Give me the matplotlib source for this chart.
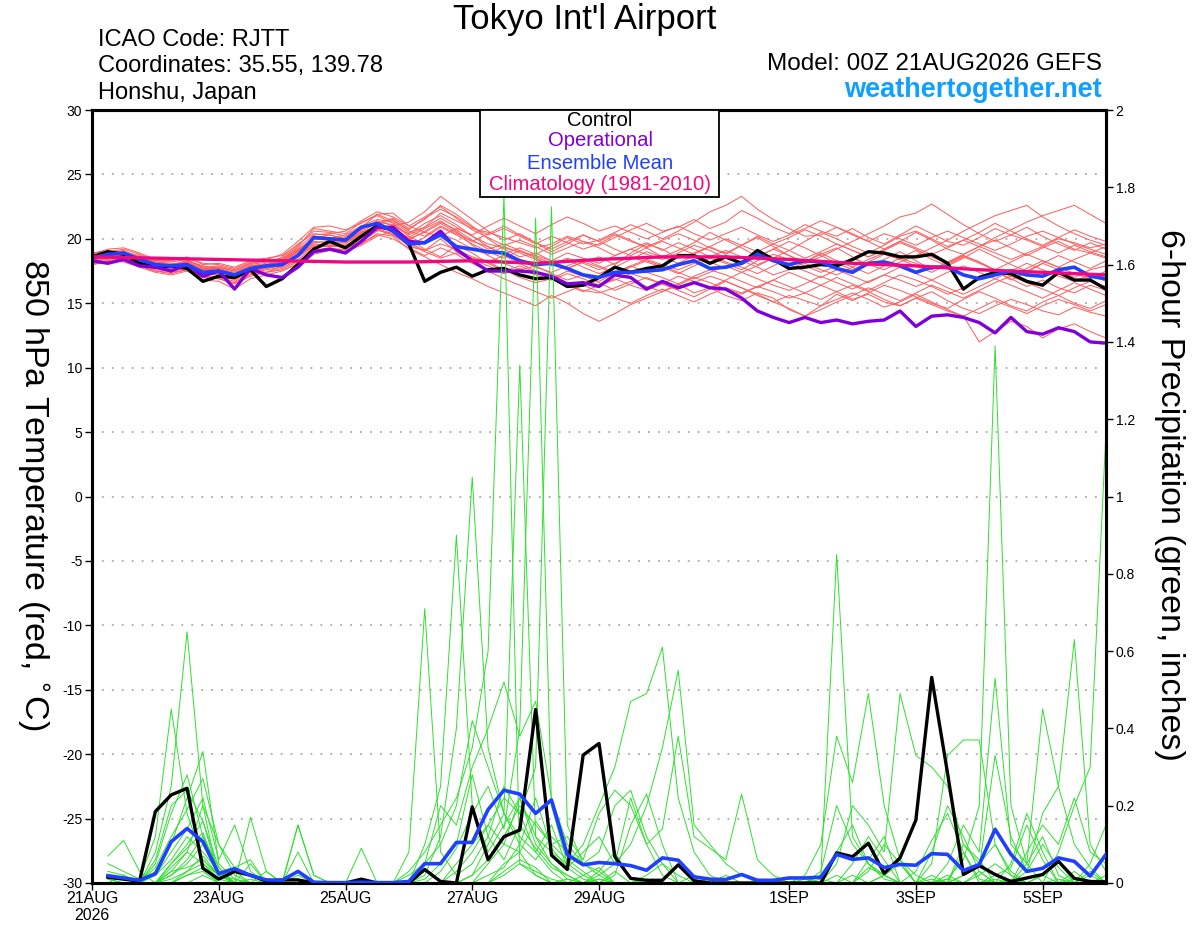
import numpy as np
import pandas as pd
import matplotlib
matplotlib.use('Agg')
import matplotlib.pyplot as plt
from matplotlib.patches import Rectangle

plt.rcParams['font.family'] = ['Liberation Sans', 'DejaVu Sans']

# ---------------- data ----------------
run_start = '2026-08-21 00:00'
n_temp = 65
tick_dates = ['2026-08-21', '2026-08-23', '2026-08-25', '2026-08-27', '2026-08-29',
              '2026-09-01', '2026-09-03', '2026-09-05']
tick_labels = ['21AUG\n2026', '23AUG', '25AUG', '27AUG', '29AUG', '1SEP', '3SEP', '5SEP']
temp_ticks = [-30, -25, -20, -15, -10, -5, 0, 5, 10, 15, 20, 25, 30]
precip_ticks = [0, 0.2, 0.4, 0.6, 0.8, 1.0, 1.2, 1.4, 1.6, 1.8, 2.0]
precip_tick_labels = ['0', '0.2', '0.4', '0.6', '0.8', '1', '1.2', '1.4', '1.6', '1.8', '2']

control_t = [18.6, 19.0, 18.8, 18.1, 17.8, 17.9, 17.7, 16.7, 17.1, 17.0, 17.6, 16.3, 16.9,
             18.0, 19.2, 19.8, 19.3, 20.2, 21.0, 20.7, 19.6, 16.7, 17.4, 17.8, 17.1, 17.6,
             17.7, 17.2, 16.9, 17.0, 16.3, 16.4, 17.0, 17.8, 17.4, 17.7, 17.9, 18.7, 18.7,
             18.1, 18.6, 18.1, 19.1, 18.4, 17.7, 17.8, 18.0, 17.9, 18.4, 19.0, 18.9, 18.6,
             18.6, 18.8, 18.1, 16.1, 17.0, 17.4, 17.3, 16.7, 16.4, 17.4, 16.8, 16.8, 16.1]
operational_t = [18.3, 18.1, 18.4, 17.9, 17.8, 17.5, 18.0, 17.1, 17.5, 16.1, 17.7, 17.2, 17.0,
                 17.8, 19.0, 19.2, 18.9, 19.8, 20.9, 20.9, 19.8, 19.7, 20.6, 19.2, 18.3, 17.5,
                 17.5, 17.5, 17.4, 17.1, 16.5, 16.6, 16.3, 17.2, 17.0, 16.1, 16.7, 16.2, 16.6,
                 16.2, 16.1, 15.4, 14.4, 13.9, 13.5, 13.9, 13.5, 13.7, 13.4, 13.6, 13.7, 14.4,
                 13.2, 14.0, 14.1, 13.9, 13.5, 12.7, 13.9, 12.8, 12.6, 13.1, 12.8, 12.0, 11.9]
ens_mean_t = [18.5, 18.8, 18.9, 18.4, 18.0, 17.9, 18.0, 17.4, 17.5, 17.2, 17.7, 17.9, 18.0,
              18.7, 20.1, 20.0, 19.9, 20.9, 21.2, 20.6, 19.6, 19.7, 20.3, 19.4, 19.2, 19.0,
              18.9, 18.3, 18.0, 18.1, 17.7, 17.2, 17.0, 17.4, 17.4, 17.5, 17.6, 18.0, 18.3,
              17.7, 17.8, 18.1, 18.8, 18.3, 18.0, 18.3, 18.2, 17.7, 17.4, 18.1, 18.2, 17.9,
              17.4, 17.8, 17.8, 17.2, 16.9, 17.2, 17.5, 17.2, 17.1, 17.6, 17.8, 17.1, 16.9]
climo_days = ['2026-08-21', '2026-08-22', '2026-08-23', '2026-08-24', '2026-08-25', '2026-08-26',
              '2026-08-27', '2026-08-28', '2026-08-29', '2026-08-30', '2026-08-31', '2026-09-01',
              '2026-09-02', '2026-09-03', '2026-09-04', '2026-09-05', '2026-09-06']
climo_t = [18.6, 18.5, 18.4, 18.3, 18.2, 18.2, 18.3, 18.1, 18.4, 18.6, 18.6, 18.4, 18.1,
           17.9, 17.6, 17.4, 17.2]

member_t = [
    [18.7,19.0,19.2,18.8, 18.3,18.2,18.4,17.8, 17.9,17.6,18.1,18.3, 18.5,19.4,20.8,20.6,
     20.4,21.3,21.8,21.2, 20.3,20.9,22.0,21.4, 20.8,20.5,20.1,19.7, 19.3,19.6,20.2,19.8,
     19.5,20.1,20.7,21.2, 20.6,20.9,21.5,20.8, 21.3,22.2,21.6,20.9, 20.4,21.1,20.6,20.2,
     20.8,20.1,19.6,20.3, 21.0,20.4,19.8,19.5, 20.1,20.8,20.3,19.9, 19.4,20.0,19.7,19.3, 19.6],
    [18.4,18.6,18.7,18.1, 17.8,17.7,17.9,17.2, 17.3,16.9,17.5,17.7, 17.9,18.6,19.5,19.6,
     19.6,20.5,21.0,20.5, 19.4,19.1,20.0,19.0, 18.5,18.2,17.6,17.0, 16.6,16.9,16.4,16.0,
     15.8,16.2,16.7,16.3, 15.9,16.4,17.0,16.6, 16.1,15.7,16.3,15.9, 15.4,15.8,16.4,15.9,
     15.3,15.7,15.1,14.8, 15.4,15.9,15.2,14.6, 14.2,14.8,15.3,14.9, 14.4,14.1,14.7,14.3, 14.0],
    [18.2,18.5,18.9,18.6, 18.1,17.9,18.2,17.5, 17.6,17.2,17.8,18.0, 18.2,19.0,20.2,20.1,
     19.9,20.6,21.2,21.6, 20.8,21.5,22.6,21.9, 21.0,20.0,19.2,18.6, 18.9,18.3,17.7,18.2,
     18.6,18.0,18.9,19.6, 19.2,18.5,18.9,19.4, 18.8,19.5,20.1,19.4, 18.7,18.2,18.8,19.3,
     18.6,17.9,18.4,19.0, 18.3,17.6,18.1,18.7, 18.2,17.5,16.8,17.4, 18.1,17.6,17.0,17.6, 17.9],
    [18.9,19.1,18.8,18.4, 18.0,17.8,18.3,17.9, 17.7,17.4,17.9,18.1, 18.4,19.2,20.0,19.9,
     20.1,20.7,21.4,21.0, 21.3,22.1,23.3,22.4, 21.5,20.6,19.9,20.4, 19.7,19.0,19.6,20.3,
     19.8,19.2,18.7,19.3, 18.6,18.1,18.7,18.2, 17.7,18.3,17.8,17.2, 17.6,18.2,18.9,18.3,
     17.8,17.3,17.9,18.5, 19.1,18.4,17.9,18.5, 19.2,18.6,18.0,17.5, 18.1,18.7,18.2,17.7, 18.3],
    [18.3,18.4,18.6,18.2, 17.7,17.9,18.1,17.4, 17.4,17.0,17.6,17.4, 17.9,18.4,19.3,19.5,
     19.3,19.8,20.6,20.9, 20.0,19.2,18.6,19.5, 18.9,18.1,17.5,17.9, 17.4,16.9,17.5,17.1,
     16.7,17.3,17.9,17.4, 17.0,16.5,17.1,17.6, 17.2,16.7,16.2,16.8, 17.4,16.9,16.4,17.0,
     16.5,16.0,16.6,17.2, 16.8,16.3,15.7,16.2, 16.9,17.5,16.9,16.3, 16.8,16.2,15.8,16.4, 16.0],
    [18.6,18.9,19.1,18.5, 18.1,18.0,18.2,17.7, 17.5,17.1,17.7,17.9, 18.6,19.6,20.4,20.3,
     20.0,20.4,21.1,21.5, 20.6,20.2,21.0,20.4, 19.8,19.4,18.8,19.3, 18.8,19.4,20.1,19.6,
     19.9,20.5,21.1,20.6, 20.0,20.6,21.3,22.1, 22.6,23.3,22.3,21.5, 20.8,20.2,20.3,20.9,
     20.4,19.8,19.2,19.8, 20.5,19.9,19.2,18.8, 19.4,19.9,19.3,18.7, 19.3,19.8,19.2,18.9, 19.4],
    [18.0,18.3,18.5,18.0, 17.6,17.5,17.7,17.1, 17.0,16.7,17.3,17.6, 17.8,18.3,19.1,19.3,
     19.1,19.6,20.4,20.2, 19.2,18.6,18.0,17.4, 16.9,16.3,15.8,15.3, 14.8,15.6,15.0,14.2,
     13.6,14.2,14.9,15.4, 15.9,16.5,15.8,16.2, 15.6,15.2,15.8,15.4, 14.5,14.0,14.8,15.7,
     15.2,15.8,16.4,16.0, 15.5,15.0,14.6,15.3, 15.9,15.4,14.8,14.4, 15.1,15.6,15.0,14.6, 15.2],
    [18.5,18.8,19.0,18.7, 18.2,18.1,18.0,17.6, 17.8,17.5,18.0,18.2, 18.3,19.1,20.0,20.0,
     20.3,21.0,21.5,21.3, 20.5,20.9,21.6,20.9, 20.2,19.6,19.3,19.0, 18.7,18.3,18.9,18.5,
     18.1,18.7,19.2,18.8, 18.4,18.9,19.5,19.1, 18.5,18.0,18.6,19.2, 19.8,19.3,18.7,18.1,
     17.6,18.2,18.8,18.4, 17.9,17.4,18.0,18.6, 18.1,17.6,17.1,17.7, 18.3,17.8,17.3,16.9, 17.5],
    [18.4,18.7,18.6,18.3, 17.9,17.6,17.8,17.3, 17.2,16.8,17.4,17.7, 18.0,18.9,19.8,19.7,
     19.8,20.3,21.0,20.7, 20.1,20.8,21.4,20.6, 19.5,18.7,18.1,17.6, 17.9,17.3,16.8,17.2,
     16.6,16.0,16.5,17.0, 16.5,16.0,15.5,16.1, 16.7,16.2,15.6,15.1, 15.6,15.2,14.8,15.3,
     15.8,15.3,14.7,15.1, 15.7,15.1,14.5,14.0, 12.0,12.8,13.6,13.2, 12.3,13.0,13.4,12.8, 12.3],
    [18.8,19.2,19.3,18.9, 18.4,18.3,18.6,18.0, 18.1,17.8,18.3,18.5, 18.7,19.5,20.6,20.5,
     20.2,20.9,21.9,21.4, 20.7,21.6,22.3,21.7, 20.9,20.3,20.8,20.2, 19.6,20.2,19.7,19.2,
     19.6,20.3,19.8,19.4, 19.9,20.4,19.9,19.3, 18.9,19.5,20.2,19.6, 19.1,19.8,20.5,20.0,
     19.4,18.9,19.5,20.2, 20.6,20.0,19.4,19.9, 20.5,21.2,20.6,20.0, 19.5,20.1,20.7,20.2, 19.8],
    [18.1,18.2,18.4,17.9, 17.5,17.3,17.6,17.0, 16.9,16.6,17.2,17.4, 17.6,18.0,18.8,19.1,
     19.0,19.5,20.2,20.6, 19.9,20.6,21.3,20.7, 19.9,19.2,19.6,19.1, 18.5,17.9,18.4,17.8,
     17.3,17.8,18.4,19.0, 18.6,19.1,19.7,20.5, 19.9,19.3,18.6,19.2, 18.7,18.1,18.6,19.2,
     19.8,20.4,21.0,21.7, 22.0,22.7,21.9,21.1, 20.4,19.8,20.3,20.9, 20.2,19.6,19.1,19.7, 19.2],
    [18.7,18.9,18.9,18.5, 18.0,17.8,18.0,17.5, 17.5,17.2,17.7,17.9, 18.2,19.0,20.1,20.3,
     20.0,20.8,21.3,21.1, 20.2,19.6,20.4,19.9, 19.2,18.8,19.4,18.9, 18.4,18.0,18.5,18.1,
     17.6,18.1,18.6,18.2, 17.8,17.3,17.9,18.5, 18.1,17.6,18.3,18.8, 18.4,17.9,17.4,17.9,
     18.5,18.0,17.6,18.2, 18.7,19.3,19.9,20.6, 21.2,21.8,22.2,22.6, 21.7,21.0,20.4,19.9, 19.5],
    [18.3,18.6,18.8,18.4, 17.9,17.8,18.1,17.6, 17.6,17.1,17.6,17.9, 18.1,18.8,19.7,19.8,
     19.7,20.2,20.8,20.4, 19.7,19.1,19.6,19.2, 18.6,18.2,18.7,18.3, 17.8,17.4,17.9,18.4,
     17.9,17.4,17.9,18.4, 18.0,17.6,18.1,18.7, 18.2,17.8,17.3,17.9, 18.5,18.1,17.6,17.2,
     17.8,18.4,18.9,18.5, 18.1,17.6,18.2,18.8, 19.4,20.1,20.7,21.3, 21.8,22.2,22.6,21.9, 21.2],
    [18.6,18.7,18.5,18.1, 17.7,17.6,17.9,17.3, 17.3,16.9,17.5,17.8, 17.9,18.7,19.6,19.5,
     19.5,20.1,20.7,20.3, 19.6,19.0,18.5,18.9, 18.4,17.9,17.3,17.7, 17.2,16.8,17.3,16.9,
     16.4,16.8,17.3,16.9, 16.5,16.1,16.6,17.1, 16.7,16.2,15.7,15.1, 14.6,14.0,14.5,15.1,
     15.6,16.2,15.7,15.2, 15.8,16.4,15.9,15.4, 16.0,16.6,17.1,16.6, 16.1,15.6,16.2,16.7, 16.3],
    [18.9,19.0,19.0,18.6, 18.3,18.4,18.5,18.1, 18.0,17.7,18.2,18.4, 18.8,19.8,20.9,21.0,
     20.7,21.2,21.9,22.0, 21.0,20.5,20.2,20.8, 20.3,21.0,21.6,21.0, 20.4,21.1,21.7,21.2,
     20.6,21.0,20.5,20.0, 20.5,21.0,20.4,19.9, 20.4,20.9,20.3,19.8, 20.3,20.8,21.4,20.9,
     20.3,19.8,20.4,20.0, 19.5,20.1,20.6,20.1, 19.6,19.1,19.6,20.2, 20.6,20.1,19.6,19.2, 18.8],
    [18.2,18.3,18.2,17.8, 17.4,17.2,17.5,16.8, 16.7,16.1,16.9,17.2, 17.5,18.1,19.0,19.2,
     19.2,19.9,20.7,21.0, 20.4,21.2,21.8,21.1, 20.2,19.4,18.7,18.1, 17.5,17.0,16.4,15.9,
     16.4,16.9,16.4,16.0, 16.5,17.1,16.7,16.2, 16.8,17.4,16.9,16.4, 16.0,16.5,17.1,16.6,
     16.1,16.7,17.2,16.8, 16.3,16.8,16.2,15.7, 16.3,16.9,16.4,15.9, 15.4,16.0,16.6,16.1, 15.6],
    [18.5,18.6,18.4,18.0, 17.8,17.7,17.9,17.4, 17.4,17.0,17.5,17.8, 18.0,18.6,19.4,19.4,
     19.4,20.0,20.7,20.3, 19.5,20.1,20.9,20.3, 19.6,19.0,18.5,19.1, 18.6,18.1,17.7,18.2,
     17.8,17.3,17.8,18.3, 17.9,17.4,16.9,17.4, 17.9,17.4,17.9,18.5, 18.0,17.5,17.0,17.6,
     17.1,16.6,17.2,17.8, 17.3,16.8,17.4,17.9, 17.4,16.9,17.5,18.1, 17.6,17.1,16.7,17.2, 16.7],
    [18.4,18.8,18.9,18.6, 18.2,18.0,18.3,17.8, 17.8,17.5,18.1,18.3, 18.4,19.3,20.3,20.4,
     20.6,21.4,22.1,21.7, 21.0,21.7,22.5,21.6, 20.7,20.1,19.5,19.9, 19.4,18.8,19.3,19.8,
     19.3,18.7,19.2,19.7, 19.1,19.7,19.2,18.6, 19.1,18.6,18.0,18.5, 19.1,18.5,19.0,19.6,
     19.1,18.6,19.1,19.7, 19.2,18.6,18.1,18.7, 18.2,17.6,18.2,18.8, 18.3,17.8,18.4,18.9, 18.5],
    [18.0,18.2,18.3,17.9, 17.5,17.4,17.6,17.0, 16.9,16.5,17.1,17.4, 17.7,18.2,19.0,19.1,
     19.0,19.7,20.3,20.0, 19.3,18.7,19.3,18.8, 18.1,17.5,16.9,16.4, 15.9,15.4,15.9,16.4,
     15.9,15.4,15.0,15.6, 16.1,15.6,15.1,15.7, 16.2,15.8,16.3,16.8, 16.3,15.8,15.3,15.9,
     16.4,15.9,15.3,14.8, 15.4,14.9,14.4,14.0, 14.6,15.2,14.7,14.2, 14.8,15.3,14.9,14.4, 14.9],
    [18.7,18.8,18.6,18.2, 17.9,17.9,18.2,17.7, 17.7,17.3,17.9,18.0, 18.3,19.1,20.0,20.0,
     19.8,20.5,21.0,20.8, 20.0,20.5,21.2,20.5, 19.8,20.4,21.0,20.3, 19.7,19.2,19.8,20.3,
     19.8,20.4,19.9,19.3, 19.8,19.3,18.8,19.4, 20.0,19.5,19.0,19.6, 20.1,20.7,20.2,19.6,
     19.1,18.6,19.2,19.8, 19.3,18.8,19.3,19.9, 19.4,18.9,18.4,18.9, 19.4,18.9,19.5,19.0, 18.6],
]

control_p = [0.015, 0.01, 0.005, 0.185, 0.228, 0.245, 0.038, 0.01, 0.03, 0.02, 0.005, 0.008,
             0.008, 0.0, 0.0, 0.0, 0.01, 0.0, 0.0, 0.0, 0.035, 0.004, 0.0, 0.197, 0.06, 0.12,
             0.137, 0.449, 0.072, 0.035, 0.331, 0.361, 0.068, 0.012, 0.007, 0.007, 0.047,
             0.006, 0.0, 0.0, 0.0, 0.0, 0.0, 0.0, 0.0, 0.0, 0.078, 0.068, 0.103, 0.025, 0.065,
             0.163, 0.532, 0.284, 0.022, 0.045, 0.022, 0.004, 0.013, 0.022, 0.056, 0.012,
             0.004, 0.003]
ens_mean_p = [0.019, 0.013, 0.007, 0.024, 0.107, 0.141, 0.107, 0.024, 0.037, 0.02, 0.008,
              0.007, 0.03, 0.002, 0.001, 0.001, 0.002, 0.001, 0.001, 0.004, 0.05, 0.05, 0.105,
              0.105, 0.19, 0.24, 0.23, 0.18, 0.215, 0.073, 0.047, 0.053, 0.05, 0.045, 0.033,
              0.065, 0.059, 0.016, 0.01, 0.009, 0.022, 0.007, 0.007, 0.013, 0.013, 0.015, 0.074,
              0.061, 0.065, 0.04, 0.048, 0.046, 0.076, 0.074, 0.032, 0.048, 0.139, 0.074, 0.03,
              0.038, 0.065, 0.056, 0.018, 0.074]

member_p = [
    [0.02,0.01,0.00,0.08,0.25,0.65,0.20,0.01, 0.03,0.00,0.00,0.00,0.00,0.00,0.00,0.00,
     0.00,0.00,0.00,0.00,0.01,0.05,0.10,0.28, 0.12,0.06,0.15,0.09,0.04,0.02,0.00,0.01,
     0.00,0.00,0.02,0.05,0.00,0.00,0.00,0.00, 0.00,0.00,0.00,0.00,0.00,0.01,0.00,0.00,
     0.03,0.10,0.05,0.00,0.08,0.20,0.12,0.03, 0.00,0.01,0.00,0.02,0.06,0.00,0.00,0.00],
    [0.05,0.03,0.01,0.12,0.45,0.18,0.06,0.02, 0.00,0.01,0.00,0.00,0.02,0.00,0.00,0.00,
     0.00,0.00,0.00,0.03,0.08,0.15,0.22,0.35, 0.60,1.78,0.05,0.02,0.00,0.01,0.00,0.03,
     0.08,0.01,0.00,0.00,0.00,0.00,0.00,0.00, 0.00,0.00,0.00,0.00,0.00,0.02,0.08,0.15,
     0.05,0.02,0.00,0.00,0.01,0.00,0.02,0.05, 0.10,0.03,0.00,0.00,0.01,0.00,0.00,0.02],
    [0.00,0.00,0.00,0.03,0.10,0.22,0.34,0.05, 0.01,0.00,0.00,0.00,0.00,0.00,0.00,0.00,
     0.00,0.00,0.00,0.02,0.05,0.10,0.20,0.42, 0.30,0.18,1.34,0.12,0.05,0.01,0.00,0.00,
     0.02,0.15,0.23,0.10,0.00,0.00,0.00,0.00, 0.00,0.00,0.00,0.00,0.01,0.00,0.00,0.05,
     0.12,0.06,0.00,0.03,0.11,0.18,0.08,0.00, 0.02,0.04,0.15,0.06,0.00,0.01,0.00,0.00],
    [0.00,0.02,0.00,0.05,0.18,0.28,0.12,0.03, 0.04,0.02,0.00,0.00,0.00,0.00,0.00,0.00,
     0.00,0.00,0.00,0.08,0.71,0.08,0.02,0.05, 0.12,0.25,0.18,0.08,0.03,0.00,0.00,0.02,
     0.05,0.22,0.10,0.02,0.00,0.00,0.00,0.00, 0.00,0.00,0.00,0.00,0.00,0.00,0.00,0.00,
     0.00,0.02,0.06,0.00,0.00,0.01,0.00,0.03, 0.00,0.00,0.05,0.12,0.02,0.00,0.00,0.00],
    [0.00,0.00,0.00,0.02,0.08,0.14,0.22,0.06, 0.15,0.03,0.00,0.00,0.00,0.00,0.00,0.00,
     0.00,0.00,0.00,0.00,0.10,0.25,0.90,0.20, 0.08,0.15,0.22,0.10,0.05,0.02,0.00,0.01,
     0.00,0.00,0.00,0.00,0.00,0.02,0.00,0.00, 0.00,0.00,0.00,0.00,0.00,0.00,0.00,0.00,
     0.00,0.00,0.00,0.00,0.05,0.33,0.37,0.37, 0.10,0.02,0.00,0.00,0.00,0.03,0.00,0.00],
    [0.01,0.00,0.00,0.04,0.12,0.19,0.27,0.10, 0.02,0.00,0.03,0.00,0.00,0.00,0.00,0.00,
     0.00,0.00,0.00,0.00,0.02,0.12,0.40,1.05, 0.35,0.18,0.10,0.22,0.09,0.04,0.01,0.00,
     0.00,0.00,0.00,0.00,0.00,0.00,0.00,0.00, 0.00,0.00,0.00,0.00,0.00,0.03,0.20,0.10,
     0.05,0.01,0.00,0.00,0.00,0.00,0.00,0.00, 0.00,0.00,0.03,0.10,0.04,0.00,0.00,0.00],
    [0.00,0.00,0.00,0.00,0.05,0.10,0.16,0.04, 0.00,0.17,0.03,0.00,0.00,0.00,0.00,0.00,
     0.00,0.00,0.00,0.00,0.00,0.03,0.09,0.18, 0.25,0.14,0.40,1.72,0.20,0.05,0.02,0.00,
     0.03,0.00,0.00,0.00,0.00,0.00,0.00,0.00, 0.00,0.00,0.00,0.00,0.00,0.00,0.02,0.00,
     0.06,0.12,0.00,0.00,0.02,0.00,0.08,0.01, 0.00,0.00,0.00,0.00,0.00,0.00,0.05,0.15],
    [0.03,0.02,0.00,0.06,0.20,0.24,0.16,0.02, 0.01,0.00,0.00,0.00,0.08,0.00,0.00,0.00,
     0.00,0.00,0.00,0.00,0.00,0.00,0.05,0.10, 0.15,0.22,0.18,0.30,1.75,0.15,0.05,0.02,
     0.00,0.00,0.01,0.00,0.00,0.00,0.00,0.00, 0.00,0.00,0.00,0.00,0.00,0.00,0.00,0.02,
     0.00,0.00,0.00,0.00,0.00,0.00,0.00,0.00, 0.01,0.00,0.00,0.02,0.00,0.00,0.03,0.00],
    [0.00,0.00,0.00,0.02,0.06,0.12,0.08,0.03, 0.00,0.00,0.00,0.00,0.00,0.00,0.00,0.00,
     0.00,0.00,0.00,0.00,0.05,0.20,0.15,0.30, 0.40,0.52,0.38,0.47,0.22,0.10,0.05,0.08,
     0.20,0.24,0.12,0.05,0.02,0.00,0.00,0.00, 0.00,0.00,0.00,0.00,0.00,0.00,0.00,0.00,
     0.04,0.02,0.00,0.00,0.00,0.00,0.10,0.06, 0.00,0.00,0.00,0.00,0.00,0.00,0.00,0.00],
    [0.00,0.00,0.00,0.00,0.03,0.08,0.20,0.10, 0.04,0.06,0.00,0.00,0.00,0.00,0.00,0.00,
     0.00,0.00,0.00,0.00,0.00,0.00,0.03,0.08, 0.15,0.10,0.22,0.12,0.08,0.05,0.10,0.20,
     0.30,0.47,0.49,0.61,0.22,0.08,0.02,0.00, 0.00,0.00,0.00,0.00,0.00,0.00,0.00,0.00,
     0.00,0.00,0.00,0.00,0.00,0.02,0.00,0.00, 0.00,0.00,0.00,0.00,0.00,0.00,0.00,0.00],
    [0.00,0.00,0.00,0.00,0.02,0.05,0.10,0.03, 0.00,0.00,0.00,0.00,0.15,0.02,0.00,0.00,
     0.00,0.00,0.00,0.00,0.00,0.00,0.00,0.02, 0.10,0.18,0.12,0.08,0.15,0.04,0.08,0.12,
     0.05,0.10,0.20,0.35,0.55,0.15,0.10,0.05, 0.02,0.00,0.00,0.00,0.00,0.00,0.00,0.00,
     0.00,0.00,0.00,0.00,0.00,0.00,0.00,0.00, 0.00,0.05,0.18,0.08,0.00,0.00,0.00,0.00],
    [0.00,0.00,0.00,0.00,0.04,0.08,0.05,0.02, 0.00,0.00,0.00,0.00,0.00,0.00,0.00,0.00,
     0.00,0.00,0.00,0.00,0.00,0.00,0.00,0.00, 0.05,0.10,0.08,0.16,0.10,0.12,0.06,0.18,
     0.24,0.20,0.10,0.14,0.38,0.12,0.09,0.06, 0.23,0.06,0.02,0.00,0.00,0.00,0.00,0.00,
     0.00,0.00,0.00,0.00,0.00,0.00,0.00,0.00, 0.00,0.00,0.00,0.00,0.00,0.00,0.02,0.00],
    [0.00,0.00,0.00,0.00,0.00,0.03,0.07,0.02, 0.00,0.00,0.00,0.00,0.00,0.00,0.00,0.00,
     0.00,0.00,0.00,0.00,0.00,0.00,0.00,0.00, 0.00,0.05,0.08,0.02,0.00,0.00,0.02,0.04,
     0.00,0.00,0.00,0.00,0.00,0.00,0.00,0.02, 0.00,0.00,0.00,0.00,0.00,0.02,0.85,0.12,
     0.05,0.02,0.00,0.00,0.00,0.00,0.00,0.00, 0.00,0.00,0.00,0.00,0.00,0.00,0.00,0.00],
    [0.00,0.00,0.00,0.00,0.02,0.06,0.12,0.04, 0.00,0.00,0.00,0.00,0.00,0.00,0.00,0.00,
     0.00,0.00,0.00,0.00,0.00,0.00,0.00,0.02, 0.06,0.12,0.20,0.15,0.10,0.06,0.03,0.00,
     0.00,0.00,0.00,0.00,0.00,0.00,0.00,0.00, 0.00,0.00,0.00,0.00,0.02,0.10,0.38,0.26,
     0.49,0.20,0.06,0.02,0.00,0.00,0.00,0.00, 0.00,0.00,0.00,0.00,0.00,0.00,0.00,0.00],
    [0.00,0.00,0.00,0.00,0.03,0.04,0.06,0.02, 0.00,0.00,0.00,0.00,0.00,0.00,0.00,0.00,
     0.00,0.00,0.00,0.00,0.00,0.00,0.00,0.00, 0.02,0.04,0.10,0.06,0.12,0.08,0.05,0.03,
     0.00,0.00,0.00,0.00,0.00,0.00,0.00,0.00, 0.00,0.00,0.00,0.00,0.00,0.00,0.05,0.20,
     0.15,0.08,0.49,0.33,0.30,0.25,0.10,0.05, 0.02,0.00,0.00,0.00,0.00,0.00,0.00,0.00],
    [0.00,0.00,0.00,0.00,0.01,0.03,0.05,0.01, 0.00,0.00,0.00,0.00,0.00,0.00,0.00,0.00,
     0.00,0.00,0.00,0.00,0.00,0.00,0.00,0.00, 0.00,0.02,0.05,0.03,0.01,0.00,0.00,0.00,
     0.00,0.00,0.00,0.00,0.00,0.00,0.00,0.00, 0.00,0.00,0.00,0.00,0.00,0.00,0.00,0.00,
     0.00,0.02,0.05,0.00,0.00,0.01,0.06,0.20, 1.39,0.20,0.05,0.00,0.00,0.00,0.00,0.00],
    [0.00,0.00,0.00,0.00,0.00,0.02,0.04,0.00, 0.00,0.00,0.00,0.00,0.00,0.00,0.00,0.00,
     0.00,0.00,0.00,0.00,0.00,0.00,0.00,0.00, 0.00,0.00,0.00,0.00,0.00,0.00,0.00,0.00,
     0.00,0.00,0.00,0.00,0.00,0.00,0.00,0.00, 0.00,0.00,0.00,0.00,0.00,0.00,0.00,0.00,
     0.00,0.00,0.00,0.00,0.00,0.05,0.15,0.08, 0.53,0.10,0.05,0.45,0.25,0.10,0.04,0.00],
    [0.01,0.00,0.00,0.00,0.00,0.02,0.03,0.00, 0.00,0.00,0.00,0.00,0.00,0.00,0.00,0.00,
     0.00,0.00,0.00,0.00,0.00,0.00,0.00,0.00, 0.00,0.00,0.00,0.00,0.00,0.00,0.00,0.00,
     0.00,0.00,0.00,0.00,0.00,0.00,0.00,0.00, 0.00,0.00,0.00,0.00,0.00,0.00,0.00,0.00,
     0.00,0.00,0.00,0.00,0.00,0.00,0.02,0.04, 0.33,0.12,0.03,0.18,0.25,0.63,0.10,0.03],
    [0.00,0.00,0.00,0.00,0.00,0.00,0.02,0.00, 0.00,0.00,0.00,0.00,0.00,0.00,0.00,0.00,
     0.00,0.00,0.00,0.00,0.00,0.00,0.00,0.00, 0.00,0.00,0.00,0.00,0.00,0.00,0.00,0.00,
     0.00,0.00,0.00,0.00,0.00,0.00,0.00,0.00, 0.00,0.00,0.00,0.00,0.00,0.00,0.00,0.00,
     0.00,0.00,0.00,0.00,0.00,0.00,0.00,0.02, 0.05,0.02,0.00,0.00,0.08,0.20,0.30,1.17],
    [0.07,0.11,0.03,0.00,0.05,0.09,0.13,0.02, 0.00,0.05,0.00,0.00,0.15,0.02,0.00,0.00,
     0.09,0.00,0.00,0.00,0.00,0.00,0.00,0.00, 0.00,0.03,0.06,0.04,0.00,0.00,0.00,0.00,
     0.00,0.00,0.00,0.00,0.00,0.00,0.00,0.00, 0.00,0.00,0.00,0.00,0.00,0.00,0.00,0.00,
     0.00,0.00,0.00,0.00,0.00,0.00,0.00,0.00, 0.00,0.00,0.08,0.15,0.10,0.22,0.08,0.05],
]

# ---------------- colours ----------------
c_member_t = '#ff5a5a'
c_member_p = '#2ee02e'
c_control = '#000000'
c_oper = '#8000dc'
c_mean = '#2040ff'
c_climo = '#f0087f'
c_web = '#10a0ff'

# ---------------- figure ----------------
times_t = pd.date_range(run_start, periods=n_temp, freq='6h')
times_p = times_t[1:]
climo_x = pd.to_datetime(climo_days)

fig = plt.figure(figsize=(12, 9.27), dpi=100)
L, R, B, T = 92 / 1200, 1106 / 1200, 1 - 883 / 927, 1 - 110 / 927
ax = fig.add_axes([L, B, R - L, T - B])
ax2 = ax.twinx()

for m in member_t:
    ax.plot(times_t, m, color=c_member_t, lw=0.7, zorder=2)
ax.plot(times_t, control_t, color=c_control, lw=2.4, zorder=4)
ax.plot(times_t, operational_t, color=c_oper, lw=2.4, zorder=5)
ax.plot(times_t, ens_mean_t, color=c_mean, lw=2.6, zorder=6)
ax.plot(climo_x, climo_t, color=c_climo, lw=2.4, zorder=7)

for m in member_p:
    ax2.plot(times_p, m, color=c_member_p, lw=0.7, zorder=2)
ax2.plot(times_p, control_p, color=c_control, lw=2.4, zorder=4)
ax2.plot(times_p, ens_mean_p, color=c_mean, lw=2.6, zorder=5)

ax.set_xlim(times_t[0], times_t[-1])
ax.set_ylim(-30, 30)
ax2.set_ylim(0, 2)

ax.set_yticks(temp_ticks)
ax.set_yticklabels([str(v) for v in temp_ticks])
ax2.set_yticks(precip_ticks)
ax2.set_yticklabels(precip_tick_labels)
ax.set_xticks(pd.to_datetime(tick_dates))
ax.set_xticklabels(tick_labels)

ax.yaxis.grid(True, color='#aaaaaa', linestyle=(0, (1, 4.5)), lw=1.3)
ax.set_axisbelow(True)

for a in (ax, ax2):
    for s in a.spines.values():
        s.set_linewidth(2.2)
    a.tick_params(axis='both', direction='out', length=5, width=1, pad=2)
ax.tick_params(axis='y', labelsize=10)
ax2.tick_params(axis='y', labelsize=10)
ax.tick_params(axis='x', labelsize=11.5, pad=1)
for lab in ax.get_xticklabels():
    lab.set_linespacing(1.1)

# legend box
ax2.add_patch(Rectangle((0.3826, 0.8874), 0.2357, 0.1126, transform=ax2.transAxes,
                        facecolor='white', edgecolor='black', lw=1.3, zorder=20, clip_on=False))
leg_items = [('Control', c_control, 0.9858), ('Operational', c_oper, 0.9599),
             ('Ensemble Mean', c_mean, 0.9314), ('Climatology (1981-2010)', c_climo, 0.9030)]
for txt, col, yy in leg_items:
    ax2.text(0.501, yy, txt, color=col, fontsize=14.6, ha='center', va='center',
             transform=ax2.transAxes, zorder=21)

# header texts
fig.text(585 / 1200, 1 - 19 / 927, "Tokyo Int'l Airport", fontsize=25, ha='center', va='center')
fig.text(98 / 1200, 1 - 40 / 927, 'ICAO Code: RJTT', fontsize=17, ha='left', va='center')
fig.text(98 / 1200, 1 - 66 / 927, 'Coordinates: 35.55, 139.78', fontsize=17, ha='left', va='center')
fig.text(98 / 1200, 1 - 93 / 927, 'Honshu, Japan', fontsize=17, ha='left', va='center')
fig.text(1102 / 1200, 1 - 64 / 927, 'Model: 00Z 21AUG2026 GEFS', fontsize=17.5, ha='right', va='center')
fig.text(1102 / 1200, 1 - 90 / 927, 'weathertogether.net', fontsize=19.5, ha='right', va='center',
         color=c_web, fontweight='bold')

fig.text(32 / 1200, 1 - 495 / 927, '850 hPa Temperature (red, $^{\\circ}$C)', fontsize=24.5,
         rotation=-90, ha='center', va='center')
fig.text(1170 / 1200, 1 - 495 / 927, '6-hour Precipitation (green, inches)', fontsize=24.5,
         rotation=-90, ha='center', va='center')

fig.savefig('out.png', dpi=100)
